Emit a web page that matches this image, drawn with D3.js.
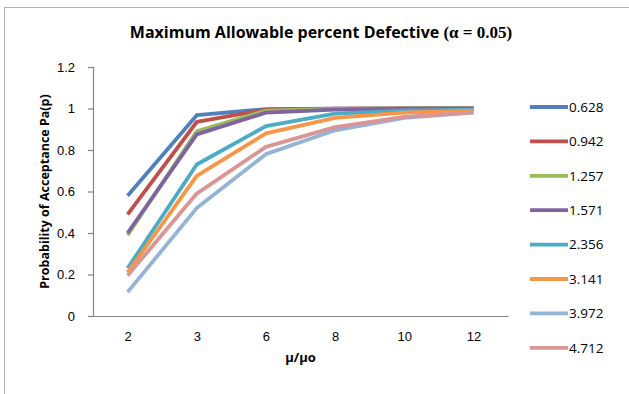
<!DOCTYPE html>
<html>
<head>
<meta charset="utf-8">
<script src="https://cdn.jsdelivr.net/npm/d3@7"></script>
<style>
  body { margin: 0; background: #fff; }
  svg { display: block; font-family: "Open Sans", "Liberation Sans", sans-serif; }
</style>
</head>
<body>
<svg id="chart" width="629" height="394"></svg>
<script>
// categories on the x axis
var categories = ["2", "3", "6", "8", "10", "12"];
// series names (legend)
var seriesNames = ["0.628", "0.942", "1.257", "1.571", "2.356", "3.141", "3.972", "4.712"];
// values
var s0628 = [0.58, 0.968, 0.997, 0.999, 1.0, 1.0];
var s0942 = [0.49, 0.935, 0.995, 0.999, 1.0, 1.0];
var s1257 = [0.39, 0.89, 0.99, 0.998, 1.0, 1.0];
var s1571 = [0.40, 0.875, 0.98, 0.995, 0.999, 1.0];
var s2356 = [0.23, 0.73, 0.915, 0.975, 0.99, 0.995];
var s3141 = [0.21, 0.675, 0.88, 0.955, 0.98, 0.99];
var s3972 = [0.115, 0.52, 0.78, 0.895, 0.955, 0.98];
var s4712 = [0.195, 0.59, 0.815, 0.91, 0.96, 0.982];
var yTicks = [0, 0.2, 0.4, 0.6, 0.8, 1, 1.2];

var seriesValues = [s0628, s0942, s1257, s1571, s2356, s3141, s3972, s4712];
var colors = ["#4F81BD", "#C0504D", "#9BBB59", "#8064A2", "#4BACC6", "#F79646", "#95B3D7", "#D99694"];

var svg = d3.select("#chart");
var margin = {left: 93, top: 67, right: 121, bottom: 78};
var width = 629 - margin.left - margin.right;
var height = 394 - margin.top - margin.bottom;

// outer chart border
svg.append("rect")
    .attr("x", 4.5).attr("y", 7.5)
    .attr("width", 640).attr("height", 400)
    .attr("fill", "none")
    .attr("stroke", "#b0b0b0");

var x = d3.scalePoint().domain(categories).range([0, width]).padding(0.5);
var y = d3.scaleLinear().domain([0, 1.2]).range([height, 0]);

var g = svg.append("g")
    .attr("transform", "translate(" + margin.left + "," + margin.top + ")");

// y axis
var yAxis = g.append("g")
    .attr("class", "axis axis--y")
    .call(d3.axisLeft(y).tickValues(yTicks).tickSize(5).tickPadding(13)
        .tickFormat(function(d) { return d3.format("~g")(d); }));
yAxis.select(".domain").attr("stroke", "#868686").attr("stroke-width", 1.2);
yAxis.selectAll(".tick line").attr("stroke", "#868686").attr("stroke-width", 1.2);
yAxis.selectAll("text").attr("font-size", 13).attr("fill", "#000");

// x axis
var xAxis = g.append("g")
    .attr("class", "axis axis--x")
    .attr("transform", "translate(0," + height + ")")
    .call(d3.axisBottom(x).tickSize(0).tickPadding(16));
xAxis.select(".domain").attr("stroke", "#868686").attr("stroke-width", 1.2);
xAxis.selectAll("text").attr("font-size", 13).attr("fill", "#000");

// lines
var line = d3.line()
    .x(function(d, i) { return x(categories[i]); })
    .y(function(d) { return y(d); });

g.selectAll(".series")
    .data(seriesValues)
    .enter().append("path")
      .attr("class", "series")
      .attr("d", line)
      .attr("fill", "none")
      .attr("stroke", function(d, i) { return colors[i]; })
      .attr("stroke-width", 3.8)
      .attr("stroke-linejoin", "round");

// titles
var title = svg.append("text")
    .attr("x", 321).attr("y", 38)
    .attr("text-anchor", "middle")
    .attr("font-size", 16).attr("font-weight", "bold");
title.append("tspan").text("Maximum Allowable percent Defective ");
title.append("tspan")
    .attr("font-family", "'Liberation Serif', serif")
    .attr("font-size", 17)
    .text("(α = 0.05)");

svg.append("text")
    .attr("transform", "translate(49," + (margin.top + height / 2) + ") rotate(-90)")
    .attr("text-anchor", "middle")
    .attr("font-size", 12.5).attr("font-weight", "bold")
    .text("Probability of Acceptance Pa(p)");

svg.append("text")
    .attr("x", margin.left + width / 2).attr("y", 362)
    .attr("text-anchor", "middle")
    .attr("font-size", 13).attr("font-weight", "bold")
    .text("μ/μo");

// legend
var legend = svg.append("g").attr("transform", "translate(530,107)");
var item = legend.selectAll(".item")
    .data(seriesNames)
    .enter().append("g")
      .attr("class", "item")
      .attr("transform", function(d, i) { return "translate(0," + (i * 34.4) + ")"; });
item.append("line")
    .attr("x1", 0).attr("x2", 38)
    .attr("stroke", function(d, i) { return colors[i]; })
    .attr("stroke-width", 3.8);
item.append("text")
    .attr("x", 39).attr("dy", "0.35em")
    .attr("font-size", 13.5)
    .text(function(d) { return d; });
</script>
</body>
</html>
